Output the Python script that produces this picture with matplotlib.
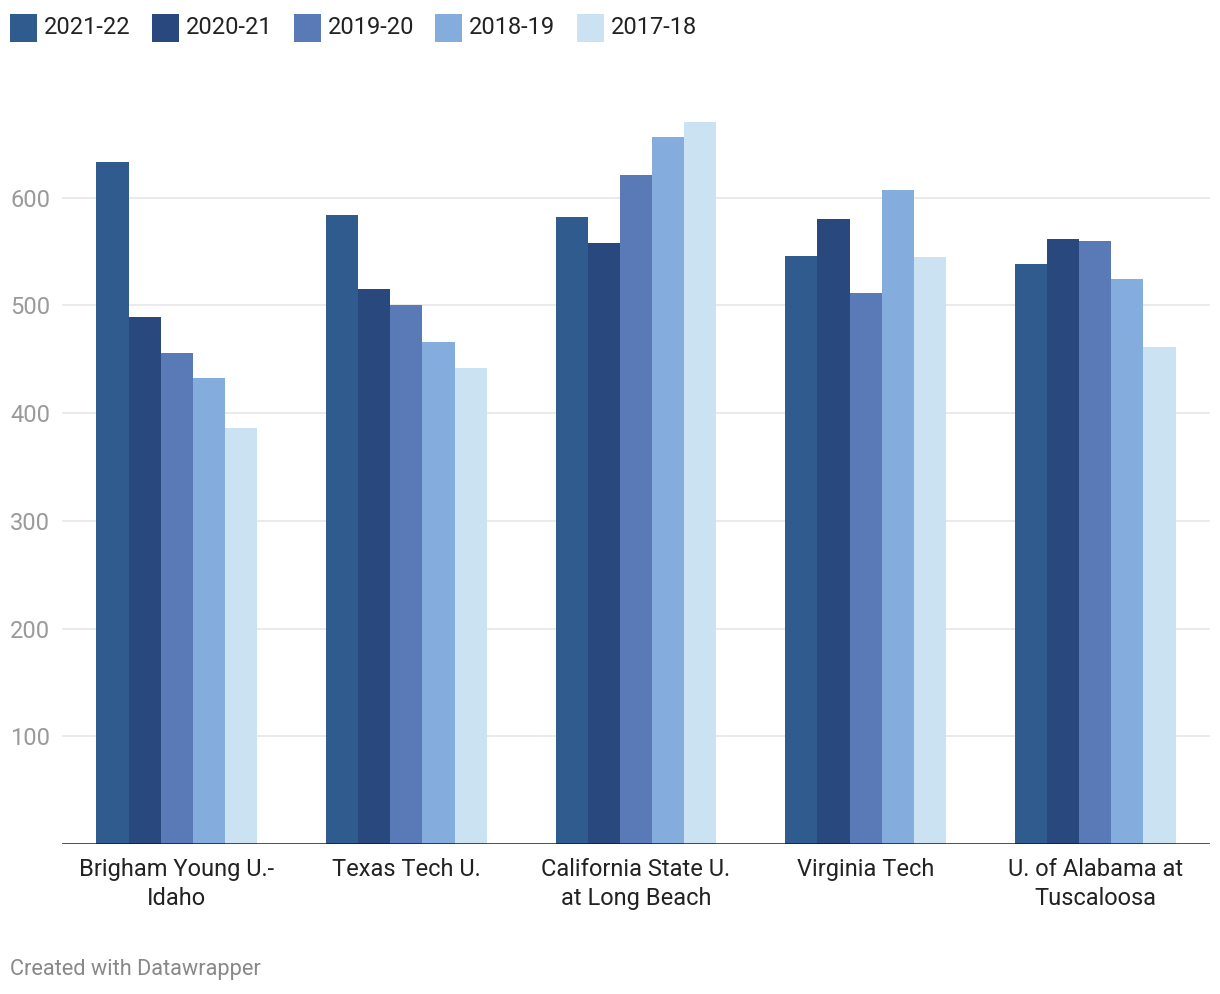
import matplotlib
matplotlib.use("Agg")
import matplotlib.pyplot as plt
import numpy as np
from matplotlib.patches import Rectangle

categories = ["Brigham Young U.-\nIdaho", "Texas Tech U.", "California State U.\nat Long Beach",
              "Virginia Tech", "U. of Alabama at\nTuscaloosa"]
series = ["2021-22", "2020-21", "2019-20", "2018-19", "2017-18"]
v_2021_22 = [633, 584, 582, 546, 538]
v_2020_21 = [489, 515, 558, 580, 562]
v_2019_20 = [456, 500, 621, 512, 560]
v_2018_19 = [433, 466, 656, 607, 525]
v_2017_18 = [386, 442, 670, 545, 461]
values = [v_2021_22, v_2020_21, v_2019_20, v_2018_19, v_2017_18]
colors = ["#2f5b8e", "#29497e", "#5a7ab7", "#84acdd", "#cbe2f2"]
yticks = [100, 200, 300, 400, 500, 600]

W, H = 1220, 994
plt.rcParams['font.family'] = ['Roboto', 'DejaVu Sans']
fig = plt.figure(figsize=(W / 100, H / 100), dpi=100)

def fx(x):
    return x / W

def fy(y):
    return 1 - y / H

ax_left, ax_right, ax_bottom, ax_top = 62, 1210, 844, 90
ax = fig.add_axes([fx(ax_left), fy(ax_bottom), fx(ax_right - ax_left), (ax_bottom - ax_top) / H])

n = len(series)
group_w = 0.70
bw = group_w / n
x = np.arange(len(categories))
for i, (s, vals, c) in enumerate(zip(series, values, colors)):
    ax.bar(x - group_w / 2 + bw * (i + 0.5), vals, width=bw, color=c, edgecolor="none", zorder=3)

ax.set_xlim(-0.5, len(categories) - 0.5)
ax.set_ylim(0, 700)
ax.set_yticks(yticks)
for t in yticks:
    ax.axhline(t, color="#e6e6e6", lw=1.2, zorder=1)
ax.axhline(0, color="#1a1a1a", lw=1.8, zorder=4)
for sp in ax.spines.values():
    sp.set_visible(False)
ax.tick_params(axis="both", length=0)
ax.set_yticklabels([str(t) for t in yticks], color="#9a9a9a", fontsize=17)
ax.tick_params(axis="y", pad=8.6)
ax.set_xticks(x)
ax.set_xticklabels(categories, fontsize=17, color="#222222", linespacing=1.32)
ax.tick_params(axis="x", pad=10.2)

# legend
leg_x = [10, 152, 294, 435, 577]
for lx, s, c in zip(leg_x, series, colors):
    fig.patches.append(Rectangle((fx(lx), fy(42)), fx(27), 28 / H, transform=fig.transFigure,
                                 color=c, ec="none"))
    fig.text(fx(lx + 34), fy(27), s, fontsize=17, color="#222222", va="center", ha="left")

fig.text(fx(10), fy(969), "Created with Datawrapper", fontsize=15.7, color="#888888", va="center", ha="left")

fig.savefig("out.png", dpi=100, facecolor="white")
